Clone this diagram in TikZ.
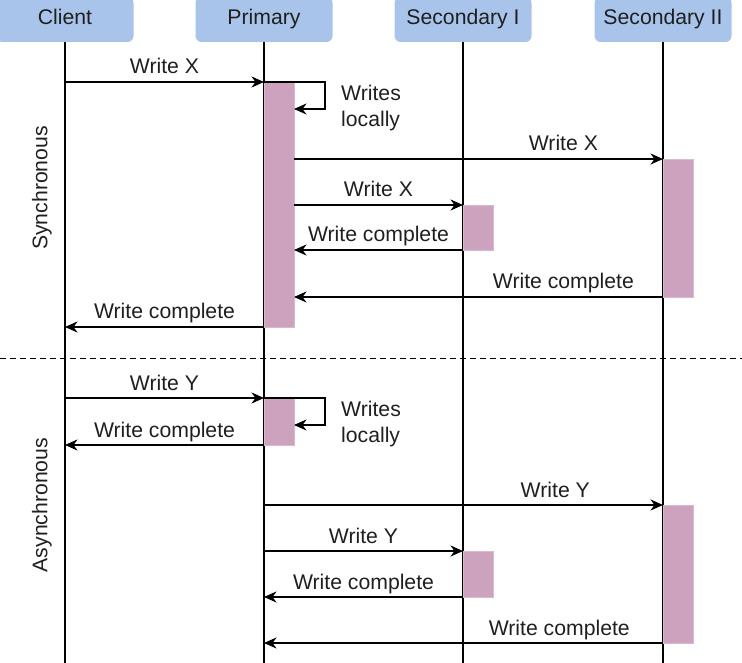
\documentclass[tikz,border=0pt]{standalone}
\usepackage{fontspec}
\setmainfont{Liberation Sans}
\usetikzlibrary{arrows.meta,calc}
\definecolor{hdr}{HTML}{A9C4EB}
\definecolor{act}{HTML}{CDA2BE}
\begin{document}
\begin{tikzpicture}[x=1pt,y=-1pt,
  font=\fontsize{21.2}{26}\selectfont,
  hdrbox/.style={fill=hdr, rounded corners=6pt, minimum width=137pt, minimum height=45pt, inner sep=0pt, outer sep=0pt, text height=15pt, text depth=4.5pt, text=black!88},
  actbox/.style={fill=act, draw=act!75, line width=0.5pt, minimum width=30pt, inner sep=0pt, outer sep=0pt, anchor=north west},
  life/.style={line width=1.2pt},
  msg/.style={line width=1.2pt, -{Stealth[length=12.5pt,width=11pt,inset=4pt]}},
  lbl/.style={anchor=base, yshift=8pt, inner sep=0pt, text=black!88},
  note/.style={anchor=north west, align=left, inner sep=0pt, text=black!88},
  side/.style={rotate=90, inner sep=0pt, text=black!88}]

\useasboundingbox (0,0) rectangle (742,663);

% headers
\node[hdrbox] (hc)  at (65,19.5)  {Client};
\node[hdrbox] (hp)  at (264,19.5) {Primary};
\node[hdrbox] (hs1) at (463,19.5) {Secondary I};
\node[hdrbox] (hs2) at (663,19.5) {Secondary II};

\coordinate (bot) at (0,663);
\coordinate (dl) at (0,358);
\coordinate (dr) at (742,358);

% lifelines
\draw[life] (hc.south)  -- (hc.south |- bot);
\draw[life] (hp.south)  -- (hp.south |- bot);
\draw[life] (hs1.south) -- (hs1.south |- bot);
\draw[life] (hs2.south) -- (hs2.south |- bot);

% separator
\draw[line width=1pt, dash pattern=on 6pt off 4pt] (dl) -- (dr);

% side labels
\node[side] (sync)  at (42,188) {Synchronous};
\node[side] (async) at (42,505) {Asynchronous};

% activation boxes
\node[actbox, minimum height=245pt] (pa1) at (264,82) {};
\node[actbox, minimum height=138pt] (s2a1) at (663,159) {};
\node[actbox, minimum height=45pt]  (s1a1) at (463,205) {};
\node[actbox, minimum height=47pt]  (pa2) at (264,398) {};
\node[actbox, minimum height=138pt] (s2a2) at (663,505) {};
\node[actbox, minimum height=46pt]  (s1a2) at (463,551) {};

% synchronous messages
\draw[msg] (hc.south |- pa1.north) -- node[lbl]{Write X} (pa1.north west);
\draw[msg] (pa1.north west) -- ++(61,0) |- ($(pa1.north east)+(0,27)$);
\node[note] (wl1) at (341,85) {Writes\\locally};
\draw[msg] (pa1.east |- s2a1.north) -- node[lbl,pos=0.73]{Write X} (s2a1.north west);
\draw[msg] (pa1.east |- s1a1.north) -- node[lbl]{Write X} (s1a1.north west);
\draw[msg] (s1a1.south west) -- node[lbl]{Write complete} (pa1.east |- s1a1.south);
\draw[msg] (s2a1.south west) -- node[lbl,pos=0.27]{Write complete} (pa1.east |- s2a1.south);
\draw[msg] (pa1.south west) -- node[lbl]{Write complete} (hc.south |- pa1.south);

% asynchronous messages
\draw[msg] (hc.south |- pa2.north) -- node[lbl]{Write Y} (pa2.north west);
\draw[msg] (pa2.north west) -- ++(61,0) |- ($(pa2.north east)+(0,27)$);
\node[note] (wl2) at (341,401) {Writes\\locally};
\draw[msg] (pa2.south west) -- node[lbl]{Write complete} (hc.south |- pa2.south);
\draw[msg] (hp.south |- s2a2.north) -- node[lbl,pos=0.73]{Write Y} (s2a2.north west);
\draw[msg] (hp.south |- s1a2.north) -- node[lbl]{Write Y} (s1a2.north west);
\draw[msg] (s1a2.south west) -- node[lbl]{Write complete} (hp.south |- s1a2.south);
\draw[msg] (s2a2.south west) -- node[lbl,pos=0.26]{Write complete} (hp.south |- s2a2.south);
\end{tikzpicture}
\end{document}
